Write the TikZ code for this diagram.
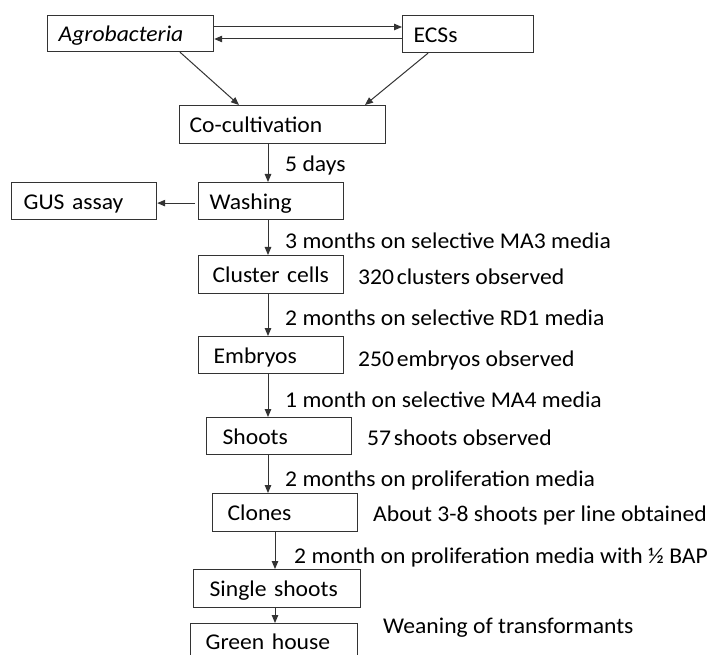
\documentclass[tikz,border=0pt]{standalone}
\usepackage{fontspec}
\setmainfont{Carlito}[FakeStretch=1.05]
\usetikzlibrary{arrows.meta}
\begin{document}
\begin{tikzpicture}[x=1pt,y=-1pt,
  font=\fontsize{22.5}{26}\selectfont,
  box/.style={draw=black!80, line width=1.2pt, rectangle, anchor=north west, align=left, inner xsep=0pt, inner ysep=0pt, text height=17.5pt, text depth=1.5pt},
  lbl/.style={anchor=base west, inner sep=0pt},
  arr/.style={draw=black!80, line width=1pt, -{Triangle[length=8pt,width=6.5pt]}}]
\useasboundingbox (0,0) rectangle (710,655);
\clip (0,0) rectangle (710,655);
\fill[white] (0,0) rectangle (710,655);

\node[box, text width=166pt, minimum height=36pt] (agro) at (47,15) {\hspace*{11pt}\itshape Agrobacteria};
\node[box, text width=131pt, minimum height=37pt] (ecs) at (402,15) {\hspace*{11pt}ECSs};
\node[box, text width=206pt, minimum height=38pt] (cocult) at (179,105) {\hspace*{10pt}Co-cultivation};
\node[box, text width=145pt, minimum height=37pt] (gus) at (11,182) {\hspace*{12pt}GUS assay};
\node[box, text width=145pt, minimum height=37pt] (wash) at (198,182) {\hspace*{11pt}Washing};
\node[box, text width=145pt, minimum height=38pt] (cluster) at (198,255) {\hspace*{14pt}Cluster cells};
\node[box, text width=145pt, minimum height=37pt] (embryo) at (198,336) {\hspace*{15pt}Embryos};
\node[box, text width=145pt, minimum height=37pt] (shoots) at (206,417) {\hspace*{16pt}Shoots};
\node[box, text width=145pt, minimum height=38pt] (clones) at (212,493) {\hspace*{15pt}Clones};
\node[box, text width=167pt, minimum height=38pt] (single) at (193,569) {\hspace*{16pt}Single shoots};
\node[box, text width=167pt, minimum height=36pt] (green) at (190,623) {\hspace*{15pt}Green house};

\node[lbl] (l1) at (285,172) {5 days};
\node[lbl] (l2) at (285,249) {3 months on selective MA3 media};
\node[lbl] (l3) at (358,285) {320\kern-0.12em\ clusters observed};
\node[lbl] (l4) at (285,325) {2 months on selective RD1 media};
\node[lbl] (l5) at (358,366) {250\kern-0.12em\ embryos observed};
\node[lbl] (l6) at (285,407) {1 month on selective MA4 media};
\node[lbl] (l7) at (367,445) {57\kern-0.12em\ shoots observed};
\node[lbl] (l8) at (285,486) {2 months on proliferation media};
\node[lbl] (l9) at (373,521) {About 3-8 shoots per line obtained};
\node[lbl] (l10) at (294,563) {2 month on proliferation media with ½ BAP};
\node[lbl] (l11) at (383,633) {Weaning of transformants};

\coordinate (ya) at (0,27);
\coordinate (yb) at (0,39);
\coordinate (xd1) at (180,0);
\coordinate (xd2) at (239,0);
\coordinate (xd3) at (428,0);
\coordinate (xd4) at (365,0);
\coordinate (xv1) at (268,0);
\coordinate (xv2) at (275,0);

\draw[arr] (agro.east |- ya) -- (ecs.west |- ya);
\draw[arr] (ecs.west |- yb) -- (agro.east |- yb);
\draw[arr] (agro.south -| xd1) -- (cocult.north -| xd2);
\draw[arr] (ecs.south -| xd3) -- (cocult.north -| xd4);
\draw[arr] (cocult.south -| xv1) -- (wash.north -| xv1);
\draw[arr] ([xshift=-3pt,yshift=-2pt]wash.west) -- ([yshift=-2pt]gus.east);
\draw[arr] (wash.south -| xv1) -- (cluster.north -| xv1);
\draw[arr] (cluster.south -| xv1) -- (embryo.north -| xv1);
\draw[arr] (embryo.south -| xv1) -- (shoots.north -| xv1);
\draw[arr] (shoots.south -| xv1) -- (clones.north -| xv1);
\draw[arr] (clones.south -| xv2) -- (single.north -| xv2);
\draw[arr] (single.south -| xv2) -- (green.north -| xv2);
\end{tikzpicture}
\end{document}
